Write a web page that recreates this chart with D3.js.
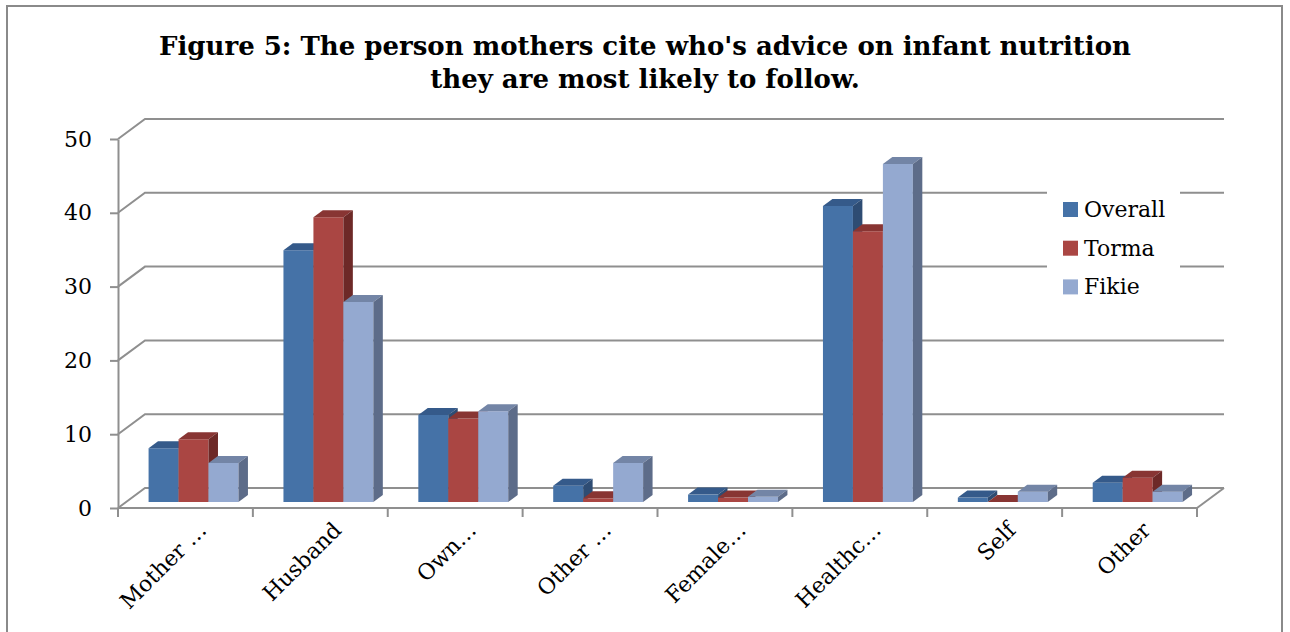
<!DOCTYPE html>
<html>
<head>
<meta charset="utf-8">
<script src="https://cdn.jsdelivr.net/npm/d3@7"></script>
<style>
  html, body { margin: 0; padding: 0; background: #fff; }
  svg { display: block; }
  text { font-family: "DejaVu Serif", "Liberation Serif", serif; fill: #000; }
</style>
</head>
<body>
<svg id="chart" width="1290" height="632"></svg>
<script>
// Respondent answers, percent per site
const categories = ["Mother …", "Husband", "Own…", "Other …", "Female…", "Healthc…", "Self", "Other"];
const seriesNames = ["Overall", "Torma", "Fikie"];
const overall = [7.3, 34.1, 11.8, 2.2, 1.0, 40.1, 0.6, 2.6];
const torma   = [8.5, 38.6, 11.3, 0.5, 0.6, 36.7, 0.0, 3.3];
const fikie   = [5.3, 27.1, 12.3, 5.3, 0.7, 45.8, 1.4, 1.4];
const yTicks = [0, 10, 20, 30, 40, 50];
const titleLines = ["Figure 5: The person mothers cite who's advice on infant nutrition",
                    "they are most likely to follow."];

const seriesValues = [overall, torma, fikie];
// front / top / side shades for each series
const faceColors = [
  { front: "#4572A7", top: "#355A8A", side: "#2E4C73" },
  { front: "#AA4643", top: "#883533", side: "#6D2927" },
  { front: "#94A9D0", top: "#7385A6", side: "#5D6C89" }
];

const svg = d3.select("#chart");

// outer chart border
svg.append("rect")
  .attr("x", 7).attr("y", 6).attr("width", 1275).attr("height", 640)
  .attr("fill", "#fff").attr("stroke", "#8a8a8a").attr("stroke-width", 2);

// title
svg.append("g").selectAll("text").data(titleLines).join("text")
  .attr("x", 645).attr("y", (d, i) => 55 + i * 33)
  .attr("text-anchor", "middle")
  .style("font-size", "26px").style("font-weight", "bold")
  .text(d => d);

// scales: front plane of the 3-D box
const x = d3.scaleBand().domain(categories).range([118, 1197]);
const y = d3.scaleLinear().domain([0, 50]).range([508, 139]);
const bw = x.bandwidth();
const xs = d3.scaleBand().domain(seriesNames).range([bw / 6, bw * 5 / 6]);

// oblique depth projection
const DX = 27, DY = -20;
const proj = (px, py, z) => [px + z * DX, py + z * DY];

const gridColor = "#8f8f8f";
const plot = svg.append("g");

// back-wall gridlines with their left-wall diagonals
yTicks.forEach(v => {
  const [bx, by] = proj(118, y(v), 1);
  const [ex] = proj(1197, y(v), 1);
  plot.append("path")
    .attr("d", d3.line()([[118, y(v)], [bx, by], [ex, by]]))
    .attr("fill", "none").attr("stroke", gridColor).attr("stroke-width", 2);
});

// floor right edge
{
  const [rx, ry] = proj(1197, y(0), 1);
  plot.append("path")
    .attr("d", d3.line()([[1197, y(0)], [rx, ry]]))
    .attr("fill", "none").attr("stroke", gridColor).attr("stroke-width", 2);
}

// legend background hides the gridlines behind it
const legend = svg.append("g");
legend.append("rect")
  .attr("x", 1047).attr("y", 184).attr("width", 133).attr("height", 122)
  .attr("fill", "#fff");

// bars
const Z0 = 0.3, Z1 = 0.65;
const bars = plot.append("g");
categories.forEach((c, ci) => {
  seriesNames.forEach((s, si) => {
    const v = seriesValues[si][ci];
    const x0 = x(c) + xs(s), x1 = x0 + xs.bandwidth();
    const yb = y(0), yt = y(v);
    const col = faceColors[si];
    const A = proj(x0, yt, Z0), B = proj(x1, yt, Z0), C = proj(x1, yb, Z0), D = proj(x0, yb, Z0);
    const B2 = proj(x1, yt, Z1), A2 = proj(x0, yt, Z1), C2 = proj(x1, yb, Z1);
    const g = bars.append("g");
    g.append("path").attr("d", d3.line()([A, B, C, D]) + "Z").attr("fill", col.front);
    g.append("path").attr("d", d3.line()([A, A2, B2, B]) + "Z").attr("fill", col.top);
    g.append("path").attr("d", d3.line()([B, B2, C2, C]) + "Z").attr("fill", col.side);
  });
});

// y axis
const yAxis = svg.append("g")
  .attr("transform", "translate(118,0)")
  .call(d3.axisLeft(y).tickValues(yTicks).tickSize(8).tickPadding(18).tickSizeOuter(0));
yAxis.select(".domain").attr("stroke", gridColor).attr("stroke-width", 2);
yAxis.selectAll(".tick line").attr("stroke", gridColor).attr("stroke-width", 2);
yAxis.selectAll(".tick text")
  .style("font-family", "'DejaVu Serif', serif").style("font-size", "22px").attr("fill", "#000");

// x axis: baseline, boundary ticks and slanted labels
const xAxis = svg.append("g");
xAxis.append("line")
  .attr("x1", 118).attr("x2", 1197).attr("y1", y(0)).attr("y2", y(0))
  .attr("stroke", gridColor).attr("stroke-width", 2);
const bounds = categories.map(c => x(c)).concat([x.range()[1]]);
xAxis.selectAll("line.tk").data(bounds).join("line").attr("class", "tk")
  .attr("x1", d => d).attr("x2", d => d).attr("y1", y(0)).attr("y2", y(0) + 9)
  .attr("stroke", gridColor).attr("stroke-width", 2);
xAxis.selectAll("text").data(categories).join("text")
  .attr("text-anchor", "end")
  .attr("transform", d => `translate(${x(d) + bw / 2 + 17},${y(0) + 18}) rotate(-45)`)
  .attr("dy", "0.35em")
  .style("font-size", "22px")
  .text(d => d);

// legend entries
const li = legend.selectAll("g.item").data(seriesNames).join("g").attr("class", "item")
  .attr("transform", (d, i) => `translate(1063,${202 + i * 38.7})`);
li.append("rect").attr("width", 15).attr("height", 15).attr("fill", (d, i) => faceColors[i].front);
li.append("text").attr("x", 21).attr("y", 15).style("font-size", "22px").text(d => d);
</script>
</body>
</html>
